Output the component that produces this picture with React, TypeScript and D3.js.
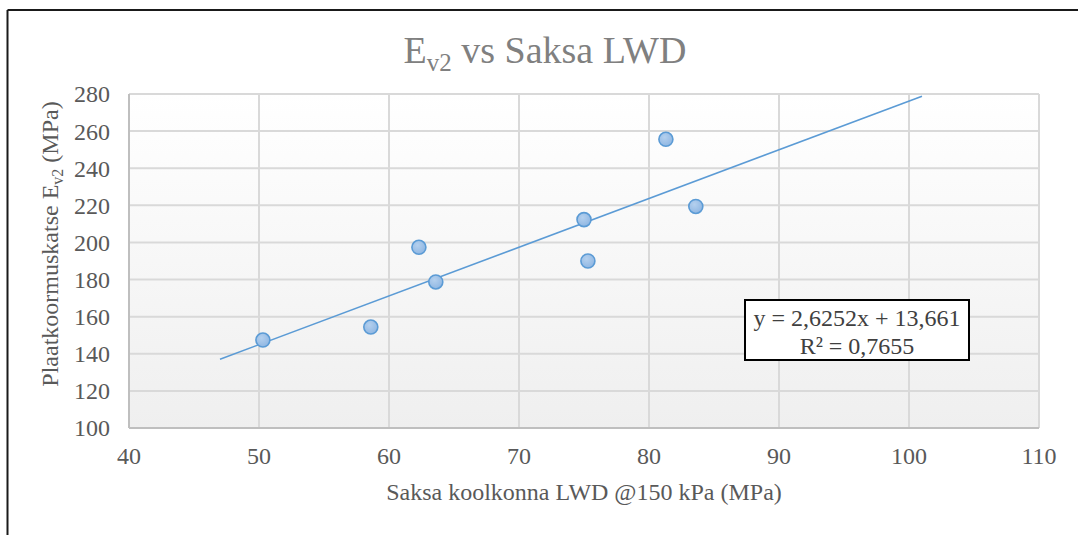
import React from "react";
import * as d3 from "d3";

const xValues = [50.3, 58.6, 62.3, 63.6, 75.0, 75.3, 81.3, 83.6];
const yValues = [147.4, 154.4, 197.4, 178.7, 212.3, 190.0, 255.6, 219.4];
const xTicks = [40, 50, 60, 70, 80, 90, 100, 110];
const yTicks = [100, 120, 140, 160, 180, 200, 220, 240, 260, 280];
const trendSlope = 2.6252;
const trendIntercept = 13.661;
const trendRange = [47, 101];
const equationLines = ["y = 2,6252x + 13,661", "R² = 0,7655"];

const W = 1078;
const H = 535;
const plot = { left: 129, right: 1039, top: 94, bottom: 428 };
const FONT = "Liberation Serif";

export default function App() {
  const x = d3.scaleLinear().domain([40, 110]).range([plot.left, plot.right]);
  const y = d3.scaleLinear().domain([100, 280]).range([plot.bottom, plot.top]);
  const points = xValues.map((v, i) => ({ x: v, y: yValues[i] }));
  const trend = trendRange.map((v) => ({ x: v, y: trendSlope * v + trendIntercept }));
  const line = d3
    .line<{ x: number; y: number }>()
    .x((d) => x(d.x))
    .y((d) => y(d.y));

  return (
    <svg width={W} height={H} style={{ position: "absolute", left: 0, top: 0, display: "block" }}>
      <defs>
        <linearGradient id="bg" x1="0" y1="0" x2="0" y2="1">
          <stop offset="0%" stopColor="#ffffff" />
          <stop offset="100%" stopColor="#efefef" />
        </linearGradient>
        <radialGradient id="mk" cx="40%" cy="35%" r="70%">
          <stop offset="0%" stopColor="#b4d0ee" />
          <stop offset="100%" stopColor="#8db5e2" />
        </radialGradient>
      </defs>
      <rect x={0} y={0} width={W} height={H} fill="#ffffff" />
      <line x1={7.5} y1={10} x2={W} y2={10} stroke="#1a1a1a" strokeWidth={2} />
      <line x1={7.5} y1={10} x2={7.5} y2={H} stroke="#1a1a1a" strokeWidth={2} />

      <rect
        x={plot.left}
        y={plot.top}
        width={plot.right - plot.left}
        height={plot.bottom - plot.top}
        fill="url(#bg)"
      />
      {yTicks.map((t) => (
        <line key={"gy" + t} x1={plot.left} x2={plot.right} y1={y(t)} y2={y(t)} stroke="#d9d9d9" strokeWidth={2} />
      ))}
      {xTicks.map((t) => (
        <line key={"gx" + t} x1={x(t)} x2={x(t)} y1={plot.top} y2={plot.bottom} stroke="#d9d9d9" strokeWidth={2} />
      ))}
      <line x1={plot.left} x2={plot.left} y1={plot.top} y2={plot.bottom} stroke="#bfbfbf" strokeWidth={2} />
      <line x1={plot.left} x2={plot.right} y1={plot.bottom} y2={plot.bottom} stroke="#bfbfbf" strokeWidth={2} />

      {yTicks.map((t) => (
        <text key={"ly" + t} x={plot.left - 19} y={y(t)} dy="0.35em" textAnchor="end" fontFamily={FONT} fontSize={24} fill="#595959">
          {t}
        </text>
      ))}
      {xTicks.map((t) => (
        <text key={"lx" + t} x={x(t)} y={plot.bottom + 28} dy="0.35em" textAnchor="middle" fontFamily={FONT} fontSize={24} fill="#595959">
          {t}
        </text>
      ))}

      <path d={line(trend) || ""} fill="none" stroke="#5b9bd5" strokeWidth={1.6} />

      {points.map((p, i) => (
        <circle key={i} cx={x(p.x)} cy={y(p.y)} r={7} fill="url(#mk)" stroke="#5b9bd5" strokeWidth={1.6} />
      ))}

      <rect x={745} y={300} width={224} height={60} fill="#ffffff" stroke="#000000" strokeWidth={2} />
      {equationLines.map((s, i) => (
        <text key={s} x={857} y={318 + i * 28} dy="0.35em" textAnchor="middle" fontFamily={FONT} fontSize={24} fill="#404040">
          {s}
        </text>
      ))}

      <text x={545} y={63} textAnchor="middle" fontFamily={FONT} fontSize={38} fill="#808080">
        E<tspan fontSize={25} dy={8}>v2</tspan>
        <tspan dy={-8}> vs Saksa LWD</tspan>
      </text>

      <text x={584} y={492} textAnchor="middle" fontFamily={FONT} fontSize={24} fill="#595959" dy="0.35em">
        Saksa koolkonna LWD @150 kPa (MPa)
      </text>
      <text
        transform={`translate(58, 244) rotate(-90)`}
        textAnchor="middle"
        fontFamily={FONT}
        fontSize={24}
        fill="#595959"
      >
        Plaatkoormuskatse E<tspan fontSize={16} dy={5}>v2</tspan>
        <tspan dy={-5}> (MPa)</tspan>
      </text>
    </svg>
  );
}
